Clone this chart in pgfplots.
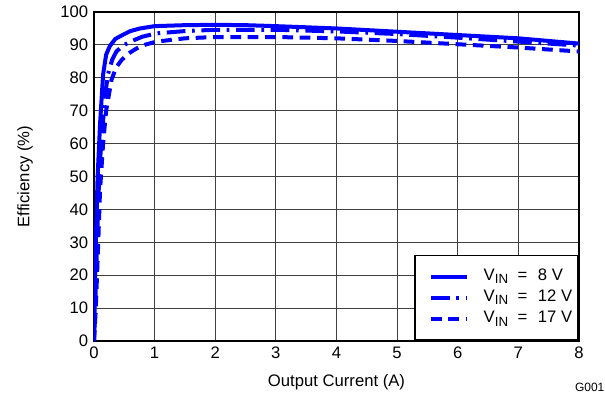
\documentclass[border=0pt]{standalone}
\usepackage{fontspec}
\setmainfont{Liberation Sans}
\usepackage{pgfplots}
\pgfplotsset{compat=1.18}
\definecolor{tiblue}{RGB}{0,0,255}
\newcommand{\vin}{V\raisebox{-2.5pt}{\fontsize{10}{10}\selectfont IN}\hspace{7pt}=\hspace{8pt}}
\begin{document}
\fontsize{12.5}{14}\selectfont
\begin{tikzpicture}
\useasboundingbox (-70.5pt,-41.25pt) rectangle (383.25pt,255.75pt);
\begin{axis}[
  scale only axis,
  width=363.75pt, height=246.75pt,
  xmin=0, xmax=8, ymin=0, ymax=100,
  xtick={0,1,...,8}, ytick={0,10,...,100},
  grid=major,
  grid style={black!75, line width=0.6pt},
  axis line style={black, line width=1.5pt},
  major tick length=0pt,
  /pgf/number format/assume math mode=true,
  tick label style={font=\fontsize{12.5}{14}\selectfont},
  label style={font=\fontsize{12.5}{14}\selectfont},
  xlabel={Output Current (A)},
  ylabel={Efficiency (\%)},
  xlabel style={at={(axis description cs:0.5,-0.125)}, anchor=center},
  ylabel style={at={(axis description cs:-0.142,0.5)}, anchor=center},
  legend style={at={(1,0)}, anchor=south east, draw=black, line width=1.2pt,
    font=\fontsize{12.5}{14}\selectfont, inner xsep=4.5pt, inner ysep=9.5pt,
    nodes={inner sep=0pt, text height=9pt, text depth=3.5pt},
    row sep=3.5pt, column sep=11pt, cells={anchor=west}},
  legend image code/.code={\path (0pt,0pt); \draw[#1, line width=3pt] (6pt,0pt) -- (33pt,0pt);},
  every axis plot/.append style={line width=3pt, tiblue, line join=round},
]
\addplot[solid] coordinates {
(0,0) (0.01,10) (0.03,30) (0.06,50) (0.1,66) (0.15,81) (0.2,87) (0.26,89.6)
(0.35,91.8) (0.48,93.1) (0.6,94.2) (0.76,95.0) (1,95.7) (1.5,96.0) (2,96.1) (2.5,96.0)
(3,95.7) (4,95.0) (5,94.0) (6,93.0) (7,92.0) (8,90.4)};
\addlegendentry{\vin 8 V}
\addplot[dash pattern=on 14pt off 5pt on 2pt off 5pt] coordinates {
(0,0) (0.02,10) (0.05,30) (0.08,47) (0.1,55) (0.15,67) (0.2,77) (0.23,81) (0.3,85.5)
(0.37,88) (0.48,89.8) (0.6,91) (0.8,92.5) (1.03,93.5) (1.5,94.2) (2,94.6) (3,94.6) (4,94.1)
(5,93.3) (6,92.2) (7,91.0) (8,89.8)};
\addlegendentry{\vin 12 V}
\addplot[dash pattern=on 8pt off 5pt] coordinates {
(0,0) (0.03,10) (0.07,30) (0.1,46) (0.15,60) (0.2,70) (0.29,79.5) (0.37,83.3)
(0.46,85.5) (0.58,87.5) (0.7,88.9) (0.85,90.1) (1.03,91) (1.5,92.0) (2,92.4) (3,92.4)
(4,92.0) (5,91.2) (6,90.2) (7,89.2) (8,88.0)};
\addlegendentry{\vin 17 V}
\end{axis}
\node[anchor=south east, inner sep=0pt, font=\fontsize{9}{10}\selectfont] at (383pt,-38.5pt) {G001};
\end{tikzpicture}
\end{document}
